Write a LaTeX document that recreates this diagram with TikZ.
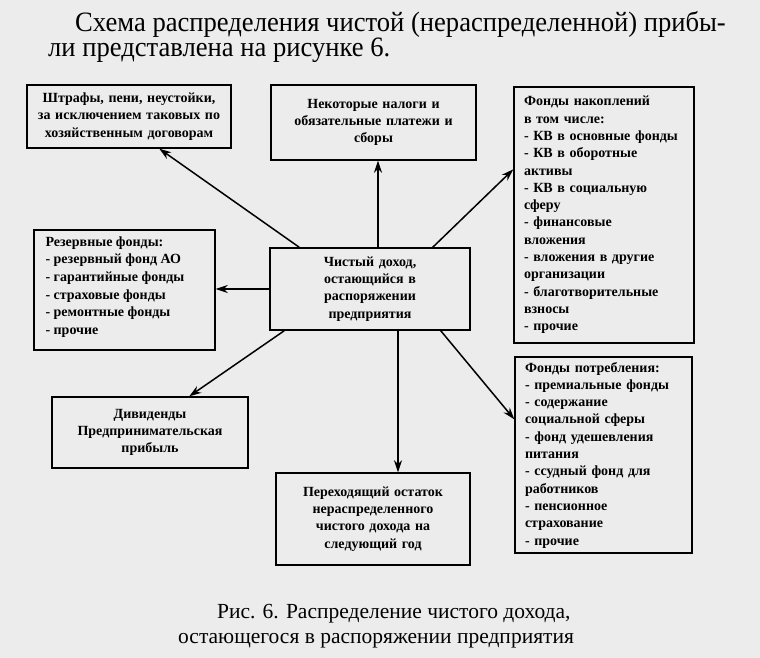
\documentclass[tikz,border=0pt]{standalone}
\usepackage{fontspec}
\setmainfont{Liberation Serif}
\usetikzlibrary{arrows.meta}
\definecolor{bg}{RGB}{236,236,236}
\begin{document}
\begin{tikzpicture}[x=1pt,y=-1pt,
  box/.style={draw, line width=1.4pt, inner xsep=10pt, inner ysep=0pt,
    font=\bfseries\fontsize{14}{17.3}\selectfont},
  cbox/.style={box, align=center},
  lbox/.style={box, align=left},
  txtl/.style={inner sep=0pt, align=left, font=\bfseries\fontsize{14}{17.6}\selectfont},
  conn/.style={line width=1.5pt, -{Stealth[length=12pt,width=8pt]}},
  ttl/.style={inner sep=0pt, font=\fontsize{28}{32}\selectfont},
  captxt/.style={inner sep=0pt, font=\fontsize{21.5}{26}\selectfont}]
\fill[bg] (0,0) rectangle (760,658);
\useasboundingbox (0,0) rectangle (760,658);

% title
\node[ttl, anchor=base west] (t1) at (75,32) {\scalebox{0.95}[1]{Схема распределения чистой (нераспределенной) прибы-}};
\node[ttl, anchor=base west] (t2) at (48,57) {\scalebox{0.95}[1]{ли представлена на рисунке 6.}};

% boxes
\node[cbox, minimum width=204, minimum height=63, text width=184] (A) at (129,116.5)
  {Штрафы, пени, неустойки,\\ за исключением таковых по\\ хозяйственным договорам};
\node[cbox, minimum width=205, minimum height=75, text width=185] (B) at (373.5,122.5)
  {Некоторые налоги и\\ обязательные платежи и\\ сборы};
\node[lbox, minimum width=180, minimum height=256, text width=160] (C) at (604,215)
  {Фонды накоплений\\ в том числе:\\ - КВ в основные фонды\\ - КВ в оборотные\\ активы\\ - КВ в социальную\\ сферу\\ - финансовые\\ вложения\\ - вложения в другие\\ организации\\ - благотворительные\\ взносы\\ - прочие};
\node[box, minimum width=181, minimum height=120] (D) at (124.5,290) {};
\node[txtl, anchor=north west] (Dt) at ([xshift=12,yshift=-7]D.north west)
  {Резервные фонды:\\ - резервный фонд АО\\ - гарантийные фонды\\ - страховые фонды\\ - ремонтные фонды\\ - прочие};
\node[cbox, minimum width=200, minimum height=82, text width=180] (E) at (370,289)
  {Чистый доход,\\ остающийся в\\ распоряжении\\ предприятия};
\node[cbox, minimum width=196, minimum height=71, text width=176] (F) at (150,432.5)
  {Дивиденды\\ Предпринимательская\\ прибыль};
\node[cbox, minimum width=194, minimum height=92, text width=174] (G) at (373,519)
  {Переходящий остаток\\ нераспределенного\\ чистого дохода на\\ следующий год};
\node[lbox, minimum width=177, minimum height=196, text width=157] (H) at (603.5,455)
  {Фонды потребления:\\ - премиальные фонды\\ - содержание\\ социальной сферы\\ - фонд удешевления\\ питания\\ - ссудный фонд для\\ работников\\ - пенсионное\\ страхование\\ - прочие};

% connectors
\draw[conn] ([xshift=30]E.north west) -- ([xshift=133]A.south west);
\draw[conn] ([xshift=8]E.north) -- ([xshift=8]E.north |- B.south);
\draw[conn] ([xshift=-38]E.north east) -- ([yshift=-83]C.north west);
\draw[conn] (E.west) -- (E.west -| D.east);
\draw[conn] ([xshift=15]E.south west) -- ([xshift=138]F.north west);
\draw[conn] ([xshift=28]E.south) -- ([xshift=28]E.south |- G.north);
\draw[conn] ([xshift=-30]E.south east) -- ([yshift=-63]H.north west);

% caption
\node[captxt, anchor=base west] (c1) at (217,618) {Рис. 6. Распределение чистого дохода,};
\node[captxt, anchor=base west] (c2) at (178,643) {остающегося в распоряжении предприятия};
\end{tikzpicture}
\end{document}
